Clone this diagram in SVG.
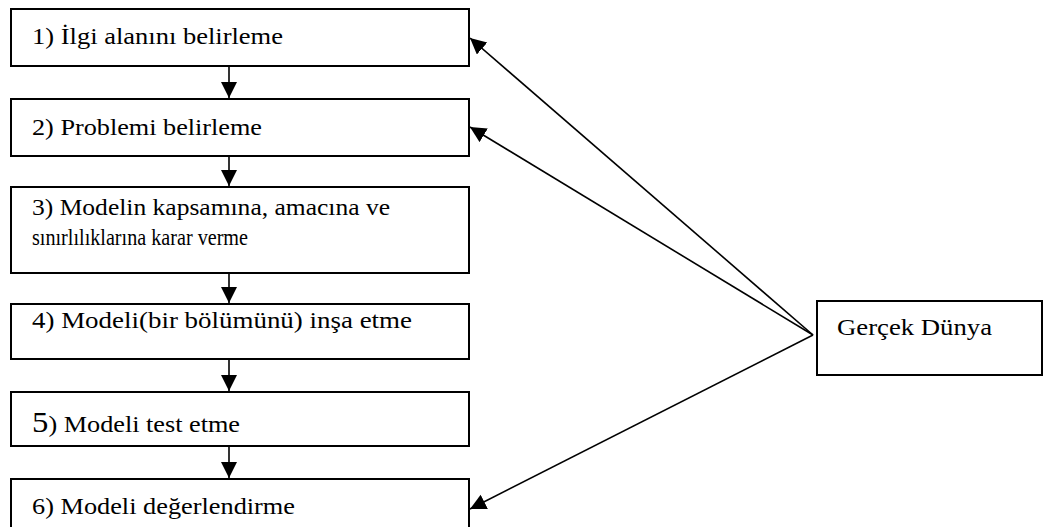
<svg xmlns="http://www.w3.org/2000/svg" width="1045" height="527" viewBox="0 0 1045 527">
<style>
.box{fill:#fff;stroke:#000;stroke-width:2}
.t{font-family:Tinos,'Times New Roman','DejaVu Serif',serif;font-size:24px;fill:#000}
.c{stroke:#000;stroke-width:1.6;fill:none}
</style>
<defs>
<marker id="ah" markerUnits="userSpaceOnUse" markerWidth="18" markerHeight="18" refX="16" refY="8" orient="auto">
<path d="M0,0 L16,8 L0,16 Z" fill="#000"/>
</marker>
</defs>
<rect width="1045" height="527" fill="#fff"/>
<g id="n1"><rect class="box" x="11" y="9" width="458" height="57"/><text class="t" x="32" y="44" textLength="251" lengthAdjust="spacingAndGlyphs">1) İlgi alanını belirleme</text></g>
<g id="n2"><rect class="box" x="11" y="99" width="458" height="57"/><text class="t" x="32" y="135" textLength="230" lengthAdjust="spacingAndGlyphs">2) Problemi belirleme</text></g>
<g id="n3"><rect class="box" x="11" y="187" width="458" height="86"/><text class="t" x="32" y="215" textLength="358" lengthAdjust="spacingAndGlyphs">3) Modelin kapsamına, amacına ve</text><text class="t" x="32" y="245" textLength="216" lengthAdjust="spacingAndGlyphs">sınırlılıklarına karar verme</text></g>
<g id="n4"><rect class="box" x="11" y="304" width="458" height="55"/><text class="t" x="32" y="328" textLength="380" lengthAdjust="spacingAndGlyphs">4) Modeli(bir bölümünü) inşa etme</text></g>
<g id="n5"><rect class="box" x="11" y="392" width="458" height="54"/><text class="t" x="32" y="432" textLength="208" lengthAdjust="spacingAndGlyphs"><tspan font-size="30">5</tspan>) Modeli test etme</text></g>
<g id="n6"><rect class="box" x="11" y="479" width="458" height="60"/><text class="t" x="32" y="514" textLength="263" lengthAdjust="spacingAndGlyphs">6) Modeli değerlendirme</text></g>
<g id="n7"><rect class="box" x="817" y="301" width="225" height="74"/><text class="t" x="837" y="335" textLength="155" lengthAdjust="spacingAndGlyphs">Gerçek Dünya</text></g>
<g id="connectors">
<line class="c" x1="229" y1="66" x2="229" y2="98" marker-end="url(#ah)"/>
<line class="c" x1="229" y1="156" x2="229" y2="186" marker-end="url(#ah)"/>
<line class="c" x1="229" y1="273" x2="229" y2="303" marker-end="url(#ah)"/>
<line class="c" x1="229" y1="359" x2="229" y2="391" marker-end="url(#ah)"/>
<line class="c" x1="229" y1="446" x2="229" y2="478" marker-end="url(#ah)"/>
<line class="c" x1="813" y1="335" x2="470" y2="38" marker-end="url(#ah)"/>
<line class="c" x1="813" y1="335" x2="470" y2="127" marker-end="url(#ah)"/>
<line class="c" x1="813" y1="335" x2="470" y2="509" marker-end="url(#ah)"/>
</g>
</svg>
